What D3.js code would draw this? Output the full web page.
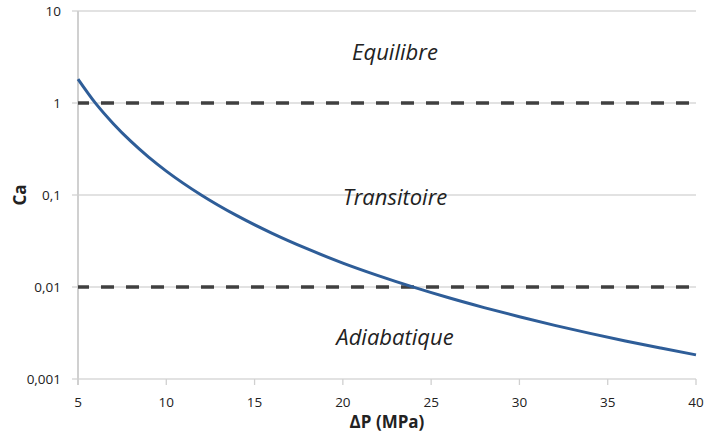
<!DOCTYPE html>
<html>
<head>
<meta charset="utf-8">
<script src="https://cdn.jsdelivr.net/npm/d3@7"></script>
<style>
  body { margin: 0; background: #fff; }
  svg text { font-family: "Open Sans", "Noto Sans", sans-serif; fill: #222; }
</style>
</head>
<body>
<div id="chart"></div>
<script>
// values
var deltaP = [5, 6, 7, 8, 9, 10, 12, 14, 16, 18, 20, 22, 24, 26, 28, 30, 32, 34, 36, 38, 40];
var ca = [1.82, 0.99, 0.596, 0.382, 0.258, 0.182, 0.0995, 0.0596, 0.0383, 0.0259, 0.0182,
          0.0133, 0.00996, 0.00763, 0.00597, 0.00475, 0.00383, 0.00313, 0.00259, 0.00217, 0.00183];
var limits = [1, 0.01];
var zones = [{ name: "Equilibre", y: 2.9 }, { name: "Transitoire", y: 0.078 }, { name: "Adiabatique", y: 0.00234 }];
var xTicks = [5, 10, 15, 20, 25, 30, 35, 40];
var yTicks = [0.001, 0.01, 0.1, 1, 10];
var yTickLabels = ["0,001", "0,01", "0,1", "1", "10"];

var width = 706, height = 441;
var margin = { left: 78, right: 10, top: 11, bottom: 62 };

var svg = d3.select("#chart").append("svg")
  .attr("width", width)
  .attr("height", height);

var x = d3.scaleLinear().domain([5, 40]).range([margin.left, width - margin.right]);
var y = d3.scaleLog().domain([0.001, 10]).range([height - margin.bottom, margin.top]);

// horizontal gridlines
svg.append("g").selectAll("line")
  .data(yTicks)
  .enter().append("line")
  .attr("x1", x(5) - 6).attr("x2", x(40))
  .attr("y1", function(d) { return y(d); })
  .attr("y2", function(d) { return y(d); })
  .style("stroke", "#d9d9d9")
  .style("stroke-width", 1.3);

// left axis line
svg.append("line")
  .attr("x1", x(5)).attr("x2", x(5))
  .attr("y1", y(10)).attr("y2", y(0.001) + 6)
  .style("stroke", "#d0d0d0")
  .style("stroke-width", 2);

// x tick marks
svg.append("g").selectAll("line")
  .data(xTicks.slice(1))
  .enter().append("line")
  .attr("x1", function(d) { return x(d); })
  .attr("x2", function(d) { return x(d); })
  .attr("y1", y(0.001)).attr("y2", y(0.001) + 6)
  .style("stroke", "#d0d0d0")
  .style("stroke-width", 1.3);

// y tick labels
svg.append("g").selectAll("text")
  .data(yTicks)
  .enter().append("text")
  .attr("x", 61)
  .attr("y", function(d) { return y(d) + 5; })
  .attr("text-anchor", "end")
  .style("font-size", "13.5px")
  .text(function(d, i) { return yTickLabels[i]; });

// x tick labels
svg.append("g").selectAll("text")
  .data(xTicks)
  .enter().append("text")
  .attr("x", function(d) { return x(d); })
  .attr("y", y(0.001) + 28)
  .attr("text-anchor", "middle")
  .style("font-size", "13.5px")
  .text(function(d) { return d; });

// dashed limits
svg.append("g").selectAll("line")
  .data(limits)
  .enter().append("line")
  .attr("x1", x(5)).attr("x2", x(40))
  .attr("y1", function(d) { return y(d); })
  .attr("y2", function(d) { return y(d); })
  .style("stroke", "#404040")
  .style("stroke-width", 3.5)
  .style("stroke-dasharray", "13,12")
  .style("stroke-dashoffset", 2);

// curve
var line = d3.line()
  .x(function(d, i) { return x(deltaP[i]); })
  .y(function(d) { return y(d); })
  .curve(d3.curveMonotoneX);

svg.append("path")
  .datum(ca)
  .attr("d", line)
  .style("fill", "none")
  .style("stroke", "#2e5d98")
  .style("stroke-width", 3);

// zone labels
svg.append("g").selectAll("text")
  .data(zones)
  .enter().append("text")
  .attr("x", 395)
  .attr("y", function(d) { return y(d.y); })
  .attr("text-anchor", "middle")
  .style("font-size", "22px")
  .style("font-style", "italic")
  .text(function(d) { return d.name; });

// axis titles
svg.append("text")
  .attr("x", x(22.5))
  .attr("y", 428)
  .attr("text-anchor", "middle")
  .style("font-size", "17px")
  .style("font-weight", "bold")
  .text("ΔP (MPa)");

svg.append("text")
  .attr("transform", "translate(26," + y(0.1) + ") rotate(-90)")
  .attr("text-anchor", "middle")
  .style("font-size", "17px")
  .style("font-weight", "bold")
  .text("Ca");
</script>
</body>
</html>
